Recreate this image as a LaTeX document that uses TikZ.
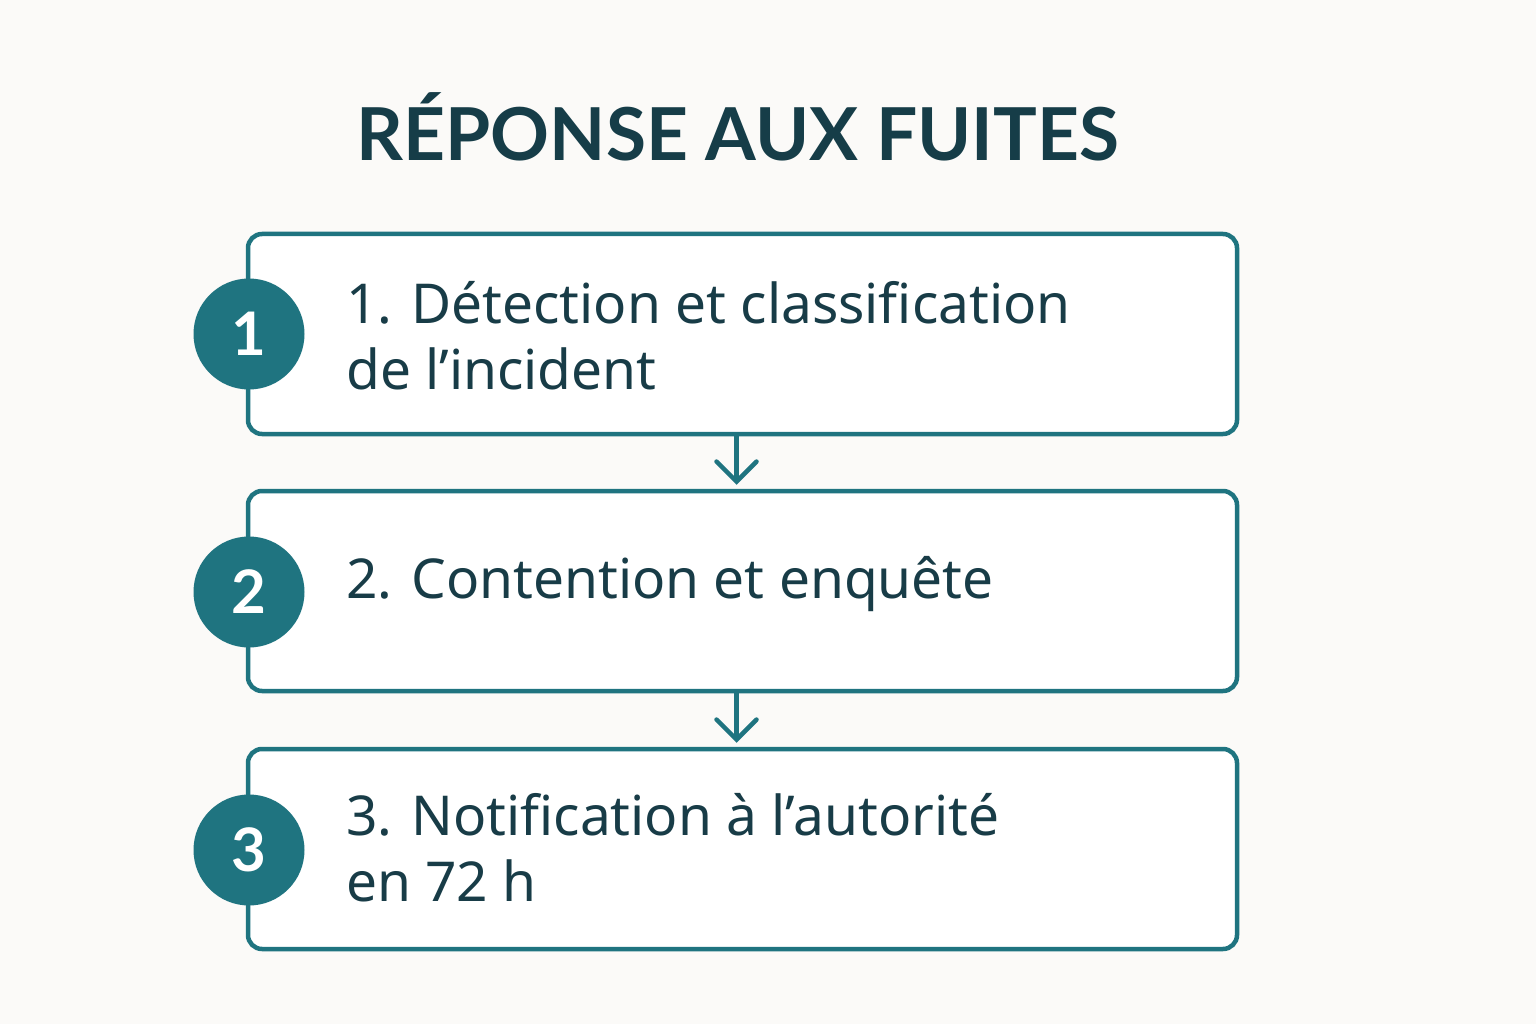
\documentclass[tikz,border=0pt]{standalone}
\usepackage{fontspec}
\setmainfont{Noto Sans}
\newfontfamily\boldfam{Lato}
\usetikzlibrary{arrows.meta}
\definecolor{teal1}{HTML}{1F7480}
\definecolor{darktext}{HTML}{183C47}
\definecolor{titletext}{HTML}{163D48}
\definecolor{bg}{HTML}{FBFAF8}
\tikzset{
  stepbox/.style={draw=teal1, line width=4.5pt, rounded corners=14pt, fill=white,
    minimum width=989pt, minimum height=200pt, inner sep=0pt},
  badge/.style={circle, fill=teal1, minimum size=111pt, inner sep=0pt, text=white,
    font=\boldfam\fontsize{60}{60}\selectfont\bfseries},
  steptext/.style={anchor=west, align=left, text=darktext, inner sep=0pt,
    font=\fontsize{55}{66}\selectfont},
  flow/.style={draw=teal1, line width=4.5pt, -{Straight Barb[length=20pt,width=40pt,line cap=round]}, shorten >=4pt},
}
\begin{document}
\begin{tikzpicture}[x=1pt,y=-1pt]
\fill[bg] (0,0) rectangle (1536,1024);
\useasboundingbox (0,0) rectangle (1536,1024);
\node[text=titletext, font=\boldfam\fontsize{73}{76}\selectfont\bfseries] (title) at (738,127) {RÉPONSE AUX FUITES};
\node[stepbox] (b1) at (742.5,334) {};
\node[stepbox] (b2) at (742.5,591) {};
\node[stepbox] (b3) at (742.5,849) {};
\node[badge] (c1) at (249,334) {1};
\node[badge] (c2) at (249,592) {2};
\node[badge] (c3) at (249,850) {3};
\node[steptext] (t1) at (346,336) {1. Détection et classification\\de l’incident};
\node[steptext] (t2) at (346,584) {2. Contention et enquête};
\node[steptext] (t3) at (346,848) {3. Notification à l’autorité\\en 72 h};
\draw[flow] ([xshift=-6pt]b1.south) -- ([xshift=-6pt]b2.north);
\draw[flow] ([xshift=-6pt]b2.south) -- ([xshift=-6pt]b3.north);
\end{tikzpicture}
\end{document}
